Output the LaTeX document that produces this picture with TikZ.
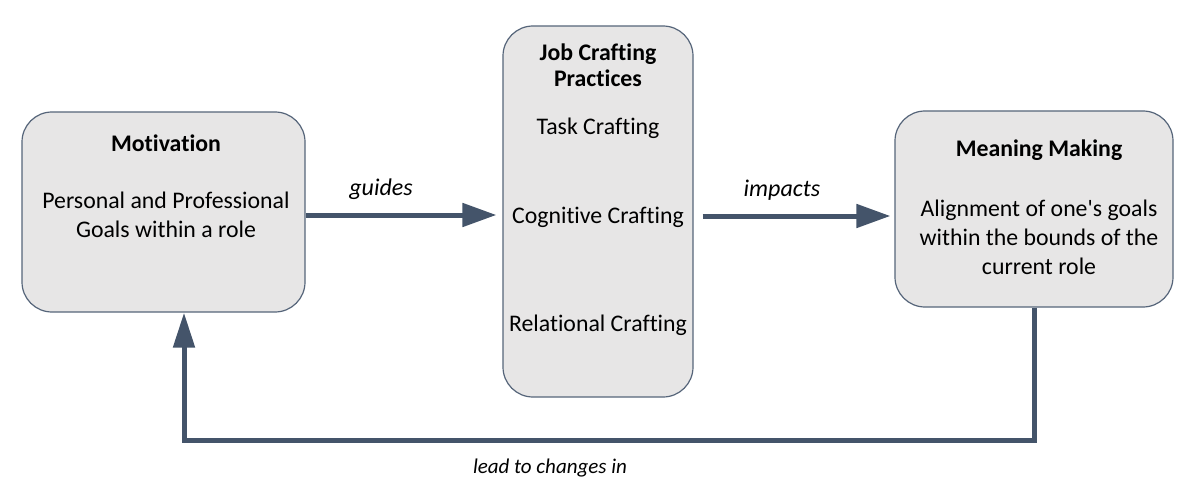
\documentclass[tikz,border=0pt]{standalone}
\usepackage{fontspec}
\setmainfont{Carlito}[RawFeature={-liga;-clig;-dlig;-calt}]
\usetikzlibrary{arrows.meta,calc}
\definecolor{linec}{HTML}{44546A}
\definecolor{boxfill}{HTML}{E7E6E6}
\definecolor{boxdraw}{HTML}{56657A}
\begin{document}
\begin{tikzpicture}[x=1pt,y=-1pt,
  box/.style={draw=boxdraw,line width=1.2pt,fill=boxfill,rounded corners=30pt,inner sep=0pt},
  txt/.style={font=\fontsize{23.8}{29}\selectfont,align=center,inner sep=0pt,text=black},
  ttl/.style={font=\fontsize{23.8}{26}\selectfont\bfseries,align=center,inner sep=0pt,text=black},
  lab/.style={font=\fontsize{24}{26}\selectfont\itshape,inner sep=0pt,text=black},
  conn/.style={draw=linec,line width=5pt,line join=miter,-{Triangle[length=34pt,width=23pt]}}]
\useasboundingbox (0,0) rectangle (1200,500);
% boxes
\node[box,minimum width=283pt,minimum height=200pt] (mot) at (163.5,212) {};
\node[box,minimum width=190pt,minimum height=371pt] (jc) at (598,211.5) {};
\node[box,minimum width=278pt,minimum height=196pt] (mm) at (1034,209) {};
% texts
\node[ttl] (motT) at (166,143) {Motivation};
\node[txt] (motB) at (166,214.5) {Personal and Professional\\Goals within a role};
\node[ttl] (jcT) at (598,65) {Job Crafting\\Practices};
\node[txt] (jc1) at (598,128) {Task Crafting};
\node[txt] (jc2) at (598,217) {Cognitive Crafting};
\node[txt] (jc3) at (598,325) {Relational Crafting};
\node[ttl] (mmT) at (1039,150) {Meaning Making};
\node[txt] (mmB) at (1039,237) {Alignment of one\textquotesingle s goals\\within the bounds of the\\current role};
% labels
\node[lab] (l1) at (381,189) {guides};
\node[lab] (l2) at (782,190) {impacts};
\node[lab,font=\fontsize{21}{24}\selectfont\itshape] (l3) at (550,468) {lead to changes in};
% connectors
\coordinate (a1) at (mot.east |- 0,215);
\coordinate (a2) at (jc.west |- 0,215);
\draw[conn,shorten >=6pt] (a1) -- (a2);
\coordinate (b1) at (jc.east |- 0,216);
\coordinate (b2) at (mm.west |- 0,216);
\draw[conn,shorten <=9pt,shorten >=4pt] (b1) -- (b2);
\coordinate (fb) at (184,440);
\draw[conn,-{Triangle[length=35pt,width=21pt]}] (mm.south) |- (fb) -- (fb |- mot.south);
\end{tikzpicture}
\end{document}
